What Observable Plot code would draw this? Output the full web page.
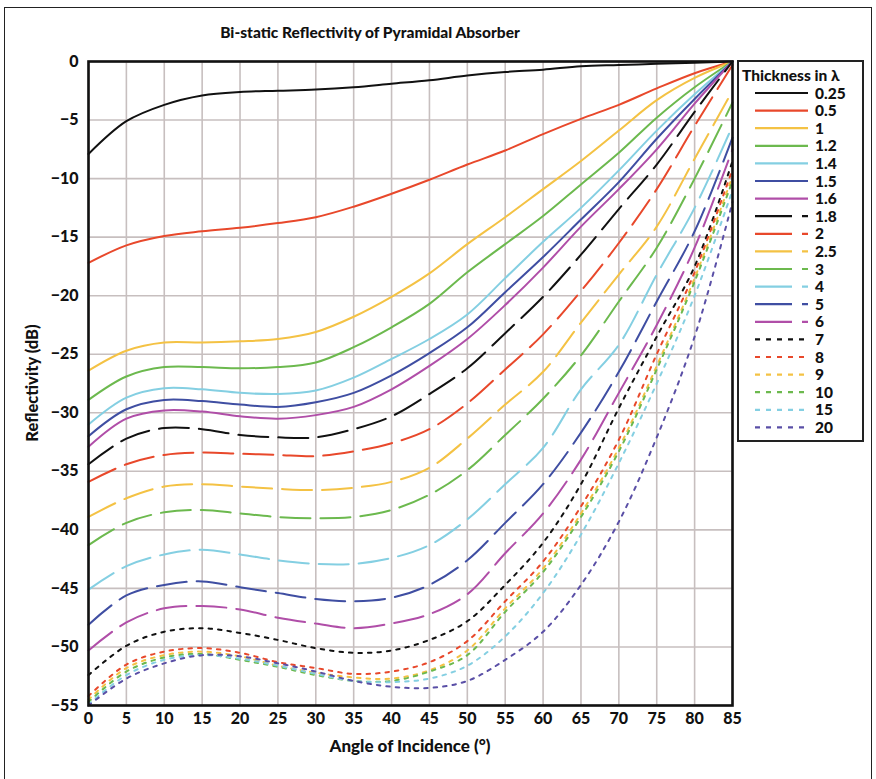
<!DOCTYPE html>
<html>
<head>
<meta charset="utf-8">
<script src="https://cdn.jsdelivr.net/npm/d3@7"></script>
<script src="https://cdn.jsdelivr.net/npm/@observablehq/plot@0.6"></script>
<style>
  html, body { margin: 0; padding: 0; background: #fff; }
  #fig { position: relative; width: 876px; height: 779px; overflow: hidden; font-family: "Lato", "DejaVu Sans", sans-serif; }
  #border { position: absolute; left: 4px; top: 7px; width: 868px; height: 800px; border: 1.5px solid #222; box-sizing: border-box; }
  #plot { position: absolute; left: 0; top: 0; }
  .title { position: absolute; left: 0; width: 740px; top: 23px; text-align: center; font-weight: 900; font-size: 15.5px; color: #111; }
  .xlab { position: absolute; left: 88px; width: 644px; top: 735px; text-align: center; font-weight: 900; font-size: 17px; color: #111; }
  .ylab { position: absolute; left: 32px; top: 383px; transform: translate(-50%, -50%) rotate(-90deg); white-space: nowrap; font-weight: 900; font-size: 16.5px; color: #111; }
  #legend { position: absolute; left: 737px; top: 60px; width: 127px; height: 382px; border: 2.5px solid #222; box-sizing: border-box; background: #fff; }
  #legend .lt { position: absolute; left: 3px; top: 4px; font-weight: 900; font-size: 15.5px; white-space: nowrap; color: #111; }
  #legend svg { position: absolute; left: 0; top: 0; }
</style>
</head>
<body>
<div id="fig">
  <div id="border"></div>
  <div id="plot"></div>
  <div class="title">Bi-static Reflectivity of Pyramidal Absorber</div>
  <div class="xlab">Angle of Incidence (°)</div>
  <div class="ylab">Reflectivity (dB)</div>
  <div id="legend"><div class="lt">Thickness in λ</div></div>
</div>
<script>
// ---- data ----
const angles = [0, 5, 10, 15, 20, 25, 30, 35, 40, 45, 50, 55, 60, 65, 70, 75, 80, 85];
const thickness = ["0.25", "0.5", "1", "1.2", "1.4", "1.5", "1.6", "1.8", "2", "2.5", "3", "4", "5", "6", "7", "8", "9", "10", "15", "20"];
const yTicks = [0, -5, -10, -15, -20, -25, -30, -35, -40, -45, -50, -55];
const xTicks = [0, 5, 10, 15, 20, 25, 30, 35, 40, 45, 50, 55, 60, 65, 70, 75, 80, 85];

const t0_25 = [-7.9, -5.1, -3.7, -2.9, -2.6, -2.5, -2.4, -2.2, -1.9, -1.6, -1.2, -0.9, -0.7, -0.4, -0.3, -0.2, -0.1, 0];
const t0_5  = [-17.2, -15.7, -14.9, -14.5, -14.2, -13.8, -13.3, -12.4, -11.3, -10.1, -8.8, -7.6, -6.2, -4.9, -3.7, -2.3, -1.0, 0];
const t1    = [-26.4, -24.7, -24.0, -24.0, -23.9, -23.7, -23.1, -21.8, -20.1, -18.1, -15.6, -13.3, -10.9, -8.5, -5.9, -3.3, -1.4, 0];
const t1_2  = [-28.9, -26.9, -26.1, -26.1, -26.2, -26.1, -25.7, -24.4, -22.7, -20.7, -18.0, -15.6, -13.2, -10.5, -7.8, -4.8, -2.2, 0];
const t1_4  = [-31.0, -28.7, -27.9, -28.0, -28.3, -28.4, -28.1, -27.0, -25.4, -23.7, -21.6, -18.5, -15.4, -12.5, -9.3, -5.9, -2.8, 0];
const t1_5  = [-32.0, -29.7, -28.9, -29.0, -29.3, -29.5, -29.1, -28.3, -26.8, -24.9, -22.7, -19.7, -16.7, -13.5, -10.3, -6.6, -3.2, 0];
const t1_6  = [-32.9, -30.5, -29.8, -29.9, -30.3, -30.5, -30.2, -29.5, -28.0, -26.0, -23.7, -20.8, -17.6, -14.1, -10.9, -7.5, -3.6, 0];
const t1_8  = [-34.4, -32.2, -31.3, -31.4, -31.9, -32.1, -32.1, -31.4, -30.3, -28.4, -26.2, -23.2, -20.1, -16.5, -12.6, -8.8, -4.3, 0];
const t2    = [-35.9, -34.4, -33.6, -33.4, -33.5, -33.6, -33.7, -33.3, -32.6, -31.4, -29.2, -26.3, -23.3, -19.6, -15.5, -10.9, -5.5, -0.3];
const t2_5  = [-38.9, -37.3, -36.3, -36.1, -36.3, -36.5, -36.6, -36.4, -35.9, -34.7, -32.2, -29.3, -26.5, -22.3, -18.2, -14.1, -8.3, -2.5];
const t3    = [-41.3, -39.4, -38.5, -38.3, -38.6, -38.9, -39.0, -38.9, -38.3, -37.0, -34.9, -31.9, -28.8, -25.1, -20.5, -15.9, -10.0, -3.5];
const t4    = [-45.1, -43.1, -42.1, -41.7, -42.1, -42.6, -42.9, -42.9, -42.4, -41.3, -39.1, -36.1, -33.0, -28.0, -24.2, -18.2, -12.5, -5.5];
const t5    = [-48.1, -45.6, -44.7, -44.4, -44.9, -45.4, -45.9, -46.1, -45.8, -44.7, -42.6, -39.4, -36.1, -31.7, -26.5, -20.5, -14.5, -6.5];
const t6    = [-50.3, -47.9, -46.7, -46.5, -46.8, -47.5, -48.0, -48.4, -48.0, -47.2, -45.5, -42.0, -38.6, -34.0, -28.3, -22.5, -15.9, -7.5];
const t7    = [-52.4, -49.9, -48.7, -48.4, -48.8, -49.4, -50.1, -50.5, -50.3, -49.4, -47.8, -44.7, -41.1, -36.1, -29.6, -23.5, -17.5, -8.5];
const t8    = [-54.2, -51.5, -50.4, -50.1, -50.5, -51.3, -51.8, -52.3, -52.1, -51.3, -49.5, -46.1, -42.7, -38.0, -32.3, -25.0, -18.0, -9.2];
const t9    = [-54.5, -51.8, -50.7, -50.4, -50.8, -51.6, -52.2, -52.6, -52.7, -52.0, -50.3, -46.7, -43.3, -38.6, -33.0, -26.0, -18.5, -9.8];
const t10   = [-54.7, -52.1, -50.9, -50.6, -51.1, -51.7, -52.4, -52.9, -52.9, -52.1, -50.7, -47.0, -43.6, -38.9, -33.3, -26.3, -18.8, -10.2];
const t15   = [-54.9, -52.4, -51.1, -50.7, -51.0, -51.6, -52.3, -52.9, -53.0, -52.7, -51.6, -49.1, -45.4, -40.4, -34.3, -27.5, -20.0, -11.0];
const t20   = [-55.0, -52.7, -51.4, -50.7, -50.8, -51.4, -52.1, -52.9, -53.4, -53.5, -52.9, -51.1, -48.7, -44.7, -39.3, -32.1, -23.5, -12.0];

const seriesValues = [t0_25, t0_5, t1, t1_2, t1_4, t1_5, t1_6, t1_8, t2, t2_5, t3, t4, t5, t6, t7, t8, t9, t10, t15, t20];

// ---- styles ----
const cBlack = "#111111", cRed = "#e8482b", cYellow = "#f4c244", cGreen = "#6cb94e",
      cCyan = "#84cfe2", cBlue = "#3f4ea2", cMagenta = "#b04ea8", cPurple = "#5a4fa6";
const colors = [cBlack, cRed, cYellow, cGreen, cCyan, cBlue, cMagenta,
                cBlack, cRed, cYellow, cGreen, cCyan, cBlue, cMagenta,
                cBlack, cRed, cYellow, cGreen, cCyan, cPurple];
const kinds = ["solid","solid","solid","solid","solid","solid","solid",
               "dash","dash","dash","dash","dash","dash","dash",
               "dot","dot","dot","dot","dot","dot"];
const dashFor = {solid: null, dash: "30,10", dot: "3.5,6"};
const legendDash = {solid: null, dash: "37,10", dot: "5,6"};

const rows = thickness.flatMap((t, i) => angles.map((a, j) => ({t, angle: a, r: seriesValues[i][j]})));

const lineMarks = thickness.map((t, i) =>
  Plot.line(rows.filter(d => d.t === t), {
    x: "angle", y: "r",
    stroke: colors[i],
    strokeWidth: 2,
    strokeDasharray: dashFor[kinds[i]] || undefined,
    curve: "catmull-rom"
  })
);

const chart = Plot.plot({
  width: 876,
  height: 779,
  marginLeft: 88,
  marginRight: 144,
  marginTop: 61,
  marginBottom: 74,
  style: {fontFamily: "Lato, 'DejaVu Sans', sans-serif", fontSize: "16px", fontWeight: "900", color: "#111", background: "transparent"},
  x: {domain: [0, 85], ticks: xTicks, label: null, tickSize: 0, tickPadding: 7},
  y: {domain: [-55, 0], ticks: yTicks, label: null, tickSize: 0, tickPadding: 10},
  marks: [
    Plot.gridX(xTicks, {stroke: "#c7bfbf", strokeOpacity: 1, strokeWidth: 1.6}),
    Plot.gridY(yTicks, {stroke: "#c7bfbf", strokeOpacity: 1, strokeWidth: 1.6}),
    ...lineMarks,
    Plot.frame({stroke: "#111", strokeWidth: 2.6}),
    Plot.axisX(xTicks, {tickSize: 0, tickPadding: 7, fontWeight: 900, fontSize: 16}),
    Plot.axisY(yTicks, {tickSize: 0, tickPadding: 10, fontWeight: 900, fontSize: 16})
  ]
});
document.getElementById("plot").appendChild(chart);

// ---- legend ----
const ns = "http://www.w3.org/2000/svg";
const lg = document.getElementById("legend");
const svg = document.createElementNS(ns, "svg");
svg.setAttribute("width", 125);
svg.setAttribute("height", 380);
thickness.forEach((t, i) => {
  const y = 31 + i * 17.6;
  const ln = document.createElementNS(ns, "line");
  ln.setAttribute("x1", 16); ln.setAttribute("x2", 69);
  ln.setAttribute("y1", y); ln.setAttribute("y2", y);
  ln.setAttribute("stroke", colors[i]);
  ln.setAttribute("stroke-width", 2.2);
  const da = legendDash[kinds[i]];
  if (da) ln.setAttribute("stroke-dasharray", da);
  svg.appendChild(ln);
  const tx = document.createElementNS(ns, "text");
  tx.setAttribute("x", 76); tx.setAttribute("y", y + 5.5);
  tx.setAttribute("font-family", "Lato, 'DejaVu Sans', sans-serif");
  tx.setAttribute("font-weight", "900");
  tx.setAttribute("font-size", "15.5");
  tx.setAttribute("fill", "#111");
  tx.textContent = t;
  svg.appendChild(tx);
});
lg.appendChild(svg);
</script>
</body>
</html>
